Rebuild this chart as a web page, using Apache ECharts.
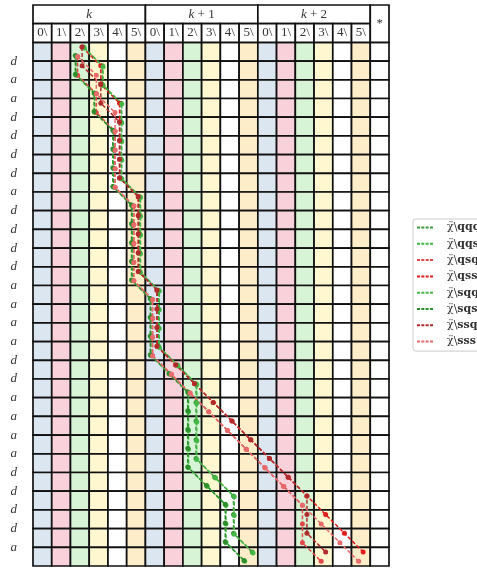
<!DOCTYPE html>
<html>
<head>
<meta charset="utf-8">
<script src="https://cdn.jsdelivr.net/npm/echarts@6/dist/echarts.min.js"></script>
<style>
  html, body { margin: 0; padding: 0; background: #fff; }
  #chart { width: 477px; height: 569px; }
</style>
</head>
<body>
<div id="chart"></div>
<script>
// labels sitting on the lines between rows (line 1 .. 27)
const rowLabels = ['d','a','a','d','d','d','d','a','d','d','d','d','a','a','a','a','d','d','a','a','a','a','d','d','d','d','a'];
const groupLabels = ['{i|k}', '{i|k} + 1', '{i|k} + 2'];
const subLabels = ['0\\', '1\\', '2\\', '3\\', '4\\', '5\\'];
const columnColors = ['#dbe6f1', '#f8d1db', '#d8f4d6', '#fef7d0', '#ffffff', '#feedc9'];
const nRows = 28;
const nCols = 19;

// column index taken by a path in each row
const topEarly = [2, 3, 3, 4];
const topLate = [2, 2, 3, 3];
const middle = [4, 4, 4, 4, 5, 5, 5, 5, 5, 6, 6, 6, 6, 7, 8];
const greenTail = [8, 8, 8, 8, 9, 10, 10, 10, 11];
const redTailLeft = [9, 10, 11, 12, 13, 14, 14, 14, 15];
const redTailRight = [9, 10, 11, 12, 13, 14, 15, 16, 17];

const seriesNames = ['qqq', 'qqs', 'qsq', 'qss', 'sqq', 'sqs', 'ssq', 'sss'];
const seriesPaths = {
  qqq: topEarly.concat(middle, greenTail),
  qqs: topLate.concat(middle, greenTail),
  qsq: topLate.concat(middle, redTailLeft),
  qss: topEarly.concat(middle, redTailRight),
  sqq: topEarly.concat(middle, greenTail),
  sqs: topLate.concat(middle, greenTail),
  ssq: topLate.concat(middle, redTailLeft),
  sss: topEarly.concat(middle, redTailRight)
};

// look of each series: colour and small shift so the lines sit side by side
const seriesStyle = {
  qqq: { color: '#3d9a3d', dx: 0.2, dy: -0.25 },
  qqs: { color: '#3fb63f', dx: -0.2, dy: 0.25 },
  qsq: { color: '#e34848', dx: -0.12, dy: 0.25 },
  qss: { color: '#e01c1c', dx: 0.12, dy: -0.25 },
  sqq: { color: '#44b844', dx: 0.24, dy: -0.2 },
  sqs: { color: '#2c8f2c', dx: -0.24, dy: 0.2 },
  ssq: { color: '#b02c2c', dx: 0.12, dy: -0.25 },
  sss: { color: '#e86a6a', dx: -0.12, dy: 0.25 }
};

// table cells
const cells = [];
for (let r = 0; r < nRows; r++) {
  for (let c = 0; c < nCols; c++) {
    cells.push({ x0: c, x1: c + 1, y0: r, y1: r + 1, fill: c < 18 ? columnColors[c % 6] : '#ffffff' });
  }
}
for (let g = 0; g < 3; g++) {
  cells.push({ x0: g * 6, x1: g * 6 + 6, y0: -2, y1: -1, fill: '#ffffff', text: groupLabels[g] });
  for (let s = 0; s < 6; s++) {
    cells.push({ x0: g * 6 + s, x1: g * 6 + s + 1, y0: -1, y1: 0, fill: '#ffffff', text: subLabels[s] });
  }
}
cells.push({ x0: 18, x1: 19, y0: -2, y1: 0, fill: '#ffffff', text: '*' });

const chart = echarts.init(document.getElementById('chart'));

const series = [{
  type: 'custom',
  silent: true,
  z: 1,
  data: cells.map(c => [c.x0, c.y0]),
  renderItem: function (params, api) {
    const cell = cells[params.dataIndex];
    const p0 = api.coord([cell.x0, cell.y0]);
    const p1 = api.coord([cell.x1, cell.y1]);
    const el = {
      type: 'rect',
      shape: {
        x: Math.min(p0[0], p1[0]), y: Math.min(p0[1], p1[1]),
        width: Math.abs(p1[0] - p0[0]), height: Math.abs(p1[1] - p0[1])
      },
      style: { fill: cell.fill, stroke: '#111', lineWidth: 1.7 }
    };
    if (cell.text) {
      el.textContent = {
        style: {
          text: cell.text,
          fontFamily: 'Liberation Serif', fontSize: 13, fill: '#333',
          rich: { i: { fontFamily: 'Liberation Serif', fontSize: 13, fontStyle: 'italic', fill: '#333' } }
        }
      };
      el.textConfig = { position: 'inside' };
    }
    return el;
  }
}];

seriesNames.forEach(name => {
  const st = seriesStyle[name];
  series.push({
    name: name,
    type: 'line',
    z: 5,
    symbol: 'circle',
    symbolSize: 5,
    data: seriesPaths[name].map((c, r) => [c + 0.5 + st.dx, r + 0.5 + st.dy]),
    lineStyle: { color: st.color, width: 1.5, type: [4, 2] },
    itemStyle: { color: st.color }
  });
});

chart.setOption({
  animation: false,
  grid: { left: 33, right: 88, top: 5, bottom: 3 },
  xAxis: {
    type: 'value', min: 0, max: nCols, interval: 1,
    axisLine: { show: false }, axisTick: { show: false },
    axisLabel: { show: false }, splitLine: { show: false }
  },
  yAxis: {
    type: 'value', min: -2, max: nRows, interval: 1, inverse: true,
    axisLine: { show: false }, axisTick: { show: false }, splitLine: { show: false },
    axisLabel: {
      margin: 16,
      fontFamily: 'Liberation Serif', fontSize: 13, fontStyle: 'italic', color: '#333',
      formatter: v => (v >= 1 && v <= rowLabels.length) ? rowLabels[v - 1] : ''
    }
  },
  legend: {
    orient: 'vertical',
    left: 413, top: 219,
    data: seriesNames,
    itemWidth: 16, itemHeight: 2, itemGap: 5.3,
    icon: 'path://M0,0h3v1h-3z M4.3,0h3v1h-3z M8.6,0h3v1h-3z M12.9,0h3v1h-3z',
    symbolKeepAspect: false,
    itemStyle: { borderWidth: 0 },
    padding: [3, 14, 4, 4],
    backgroundColor: '#fff', borderColor: '#ccc', borderWidth: 1, borderRadius: 3,
    formatter: n => '{a|χ̈\\}{b|' + n + '}',
    textStyle: {
      padding: [0, 0, 0, 9],
      rich: {
        a: { fontFamily: 'DejaVu Serif', fontSize: 11, color: '#333', lineHeight: 14 },
        b: { fontFamily: 'DejaVu Serif', fontSize: 11, fontWeight: 'bold', color: '#333', lineHeight: 14 }
      }
    }
  },
  series: series
});
</script>
</body>
</html>
